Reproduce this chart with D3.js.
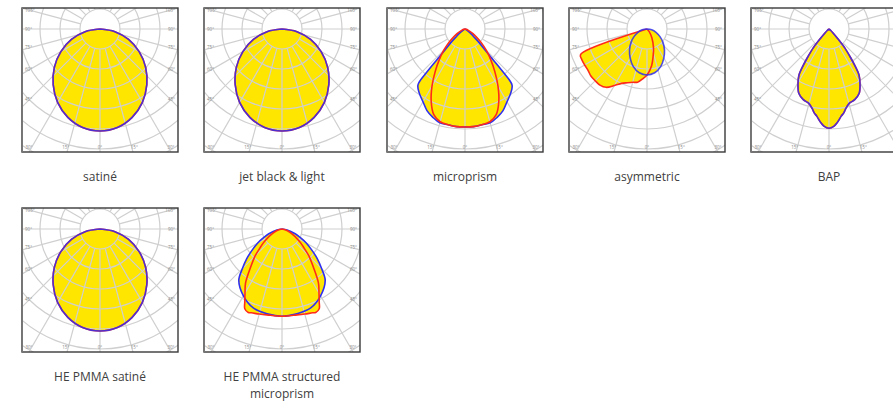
<!DOCTYPE html>
<html><head><meta charset="utf-8">
<script src="https://cdn.jsdelivr.net/npm/d3@7"></script>
<style>body{margin:0;background:#fff;overflow:hidden}</style>
</head><body>
<svg id="chart" width="893" height="405"></svg>
<script>
// ---------- data ----------
const panelTitles = [["satiné"],["jet black & light"],["microprism"],["asymmetric"],["BAP"],["HE PMMA satiné"],["HE PMMA structured","microprism"]];
const ringValues = [50,100,150,200,250,300,350,400];
const spokeAngles = [0,15,30,45,60,75,90,105,120,135,150,165,180,195,210,225,240,255,270,285,300,315,330,345];
const sideTickAngles = [105,90,75,60,45];
const sideTickLabels = ["105°","90°","75°","60°","45°"];
const bottomTickAngles = [-30,-15,0,15,30];
const bottomTickLabels = ["30°","15°","0°","15°","30°"];

// symmetric half-curves (angle from nadir, cd/klm)
const satineAngles = [0,10,20,30,40,50,60,70,80,90];
const satineValues = [255,250,235,212,182,149,113,76,38,0];

const microBlueAngles = [0,5,10,15,20,25,30,35,40,41.5,42.5,44,46,48,52,60,75];
const microBlueValues = [245,245,243,243,235,225,210,198,183,143,100,70,50,33,18,5,0];
const microRedAngles = [0,5,10,15,20,25,30,35,40,45,50,55,60,70,80,90];
const microRedValues = [245,245,243,240,228,200,165,130,100,75,53,35,23,8,3,0];

const asymBlueAngles = [0,10,20,30,40,50,60,70,80,90];
const asymBlueValues = [115,111,100,84,68,52,37,24,12,0];
// full-plane asymmetric curve (negative = left)
const asymRedAngles = [-70,-69,-65,-60,-55,-50,-45,-40,-35,-30,-25,-20,-15,-10,-5,0,7,14,19,29,40,50];
const asymRedValues = [0,178,180,180,180,183,183,183,178,163,150,143,138,135,125,115,93,65,50,25,8,0];

const bapAngles = [0,3,5,8,10,12,15,20,25,29,33,35,37,40,42,45,50,60];
const bapValues = [248,243,235,220,213,203,193,188,178,160,138,115,90,60,33,15,5,0];

const hemBlueAngles = [0,10,20,30,40,45,50,55,60,65,70,80,90];
const hemBlueValues = [218,215,210,193,168,140,115,90,70,50,35,13,0];
const hemRedAngles = [0,10,15,20,22,25,27,30,34,40,45,50,55,65,75,90];
const hemRedValues = [218,218,220,223,225,220,205,185,163,120,95,70,53,25,10,0];

// ---------- helpers ----------
const mirror = (angles, values) => {
  const pts = [];
  for (let i = angles.length - 1; i > 0; i--) pts.push([-angles[i], values[i]]);
  for (let i = 0; i < angles.length; i++) pts.push([angles[i], values[i]]);
  return pts;
};
const zipPts = (angles, values) => angles.map((a, i) => [a, values[i]]);

const C0 = "#ff2a1a", C90 = "#2f2ff0";
const panels = [
  {col:0,row:0,curves:[{pts:mirror(satineAngles,satineValues),c:C0},{pts:mirror(satineAngles,satineValues),c:C90}]},
  {col:1,row:0,curves:[{pts:mirror(satineAngles,satineValues),c:C0},{pts:mirror(satineAngles,satineValues),c:C90}]},
  {col:2,row:0,curves:[{pts:mirror(microBlueAngles,microBlueValues),c:C90},{pts:mirror(microRedAngles,microRedValues),c:C0}]},
  {col:3,row:0,curves:[{pts:zipPts(asymRedAngles,asymRedValues),c:C0},{pts:mirror(asymBlueAngles,asymBlueValues),c:C90}]},
  {col:4,row:0,curves:[{pts:mirror(bapAngles,bapValues),c:C0},{pts:mirror(bapAngles,bapValues),c:C90}]},
  {col:0,row:1,curves:[{pts:mirror(satineAngles,satineValues),c:C0},{pts:mirror(satineAngles,satineValues),c:C90}]},
  {col:1,row:1,curves:[{pts:mirror(hemBlueAngles,hemBlueValues),c:C90},{pts:mirror(hemRedAngles,hemRedValues),c:C0}]}
];
panels.forEach((p,i)=>p.title = panelTitles[i]);

// ---------- layout ----------
const SVG_W = 893;
const colX = [22,204,387,569,751], rowY = [8,208];
const W = 156, H = 144, OX = 78, OY = 21;
const r = d3.scaleLinear().domain([0,400]).range([0,160]);
const rad = d => d * Math.PI / 180;

const svg = d3.select("#chart");
const defs = svg.append("defs");

const line = d3.lineRadial()
  .angle(d => Math.PI - rad(d[0]))
  .radius(d => r(d[1]))
  .curve(d3.curveCatmullRom.alpha(0.5));

panels.forEach((p, i) => {
  const x0 = colX[p.col], y0 = rowY[p.row];
  defs.append("clipPath").attr("id","clip"+i).append("rect").attr("width",W).attr("height",H);
  const g = svg.append("g").attr("transform",`translate(${x0},${y0})`);
  const inner = g.append("g").attr("clip-path",`url(#clip${i})`);
  inner.append("rect").attr("width",W).attr("height",H).attr("fill","#fff");
  const o = inner.append("g").attr("transform",`translate(${OX},${OY})`);

  // fills
  p.curves.forEach(c => o.append("path").attr("d", line(c.pts)).attr("fill","#ffe600").attr("stroke","none"));

  // grid
  o.selectAll("circle.ring").data(ringValues).join("circle")
    .attr("r", d => r(d)).attr("fill","none").attr("stroke","#cfcfcf").attr("stroke-width",1.2);
  o.selectAll("line.spoke").data(spokeAngles).join("line")
    .attr("x1", d => r(ringValues[0]) * Math.sin(rad(d)))
    .attr("y1", d => r(ringValues[0]) * Math.cos(rad(d)))
    .attr("x2", d => r(ringValues[ringValues.length-1]) * Math.sin(rad(d)))
    .attr("y2", d => r(ringValues[ringValues.length-1]) * Math.cos(rad(d)))
    .attr("stroke","#cfcfcf").attr("stroke-width",1.2);

  // curve strokes
  p.curves.forEach((c, k) => o.append("path").attr("d", line(c.pts)).attr("fill","none")
    .attr("stroke", c.c).attr("stroke-width",1.6).attr("stroke-opacity", k === 1 && c.c === C90 ? 0.85 : 1));

  // tick labels
  const tl = inner.append("g").attr("font-family","Open Sans, sans-serif").attr("font-size",4.5).attr("fill","#8a8a8a");
  const rightVisible = x0 + W - 3 <= SVG_W - 2;
  sideTickAngles.forEach((a, k) => {
    const yy = OY + 70 * Math.cos(rad(a)) / Math.sin(rad(a)) + 1.6;
    tl.append("text").attr("x",3).attr("y",yy).text(sideTickLabels[k]);
    if (rightVisible) tl.append("text").attr("x",W-3).attr("y",yy).attr("text-anchor","end").text(sideTickLabels[k]);
  });
  bottomTickAngles.forEach((a, k) => {
    const xx = Math.max(7, Math.min(W-7, OX + 128 * Math.tan(rad(a))));
    if (x0 + xx + 4 <= SVG_W - 2)
      tl.append("text").attr("x",xx).attr("y",H-3).attr("text-anchor","middle").text(bottomTickLabels[k]);
  });

  // frame
  g.append("rect").attr("width",W).attr("height",H).attr("fill","none").attr("stroke","#3a3a3a").attr("stroke-width",1.4);
  g.append("line").attr("x1",0.2).attr("x2",0.2).attr("y1",0).attr("y2",H).attr("stroke","#777").attr("stroke-width",1.6);

  // title
  const t = svg.append("text").attr("x", x0 + OX).attr("y", y0 + H + 29)
    .attr("text-anchor","middle").attr("font-family","Open Sans, sans-serif").attr("font-size",12).attr("fill","#404040");
  p.title.forEach((s, k) => t.append("tspan").attr("x", x0 + OX).attr("dy", k ? 17 : 0).text(s));
});
</script>
</body></html>
